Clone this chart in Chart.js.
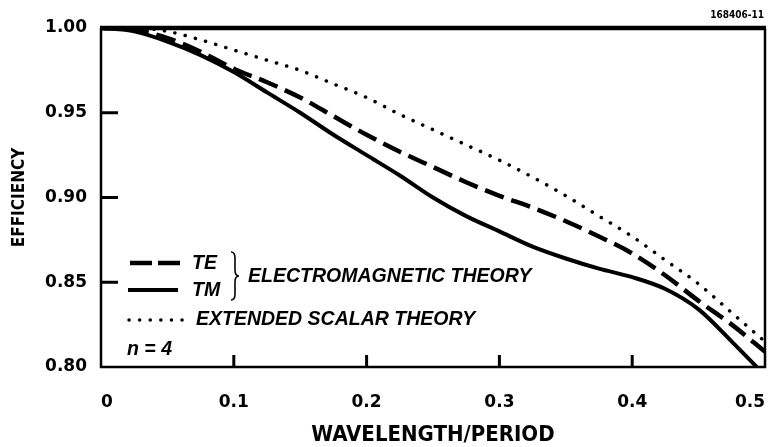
<!DOCTYPE html>
<html>
<head>
<meta charset="utf-8">
<script src="https://cdn.jsdelivr.net/npm/chart.js@4.4.1/dist/chart.umd.min.js"></script>
<style>
  html, body { margin: 0; padding: 0; background: #fff; }
  #wrap { width: 771px; height: 447px; position: relative; }
</style>
</head>
<body>
<div id="wrap"><canvas id="c" width="771" height="447"></canvas></div>
<script>
// ---- data ----
const wavelengthPeriod = [0, 0.025, 0.05, 0.075, 0.1, 0.125, 0.15, 0.175, 0.2, 0.225, 0.25,
                          0.275, 0.3, 0.325, 0.35, 0.375, 0.4, 0.425, 0.45, 0.475, 0.5];
const efficiencyTE = [1.000, 0.999, 0.994, 0.986, 0.976, 0.968, 0.959, 0.948, 0.937, 0.927, 0.918,
                      0.909, 0.901, 0.894, 0.886, 0.877, 0.867, 0.854, 0.839, 0.825, 0.809];
const efficiencyTM = [1.000, 0.998, 0.992, 0.984, 0.974, 0.962, 0.950, 0.937, 0.925, 0.913, 0.900,
                      0.889, 0.880, 0.871, 0.864, 0.858, 0.853, 0.846, 0.834, 0.815, 0.795];
const efficiencyScalar = [1.000, 1.000, 0.998, 0.993, 0.987, 0.981, 0.975, 0.967, 0.959, 0.949, 0.940,
                          0.931, 0.922, 0.912, 0.901, 0.889, 0.877, 0.863, 0.849, 0.832, 0.815];
const xTickLabels = ['0', '0.1', '0.2', '0.3', '0.4', '0.5'];
const yTickLabels = ['0.80', '0.85', '0.90', '0.95', '1.00'];
const legendLabels = ['TE', 'TM', 'ELECTROMAGNETIC THEORY', 'EXTENDED SCALAR THEORY', 'n = 4'];
const figureId = '168406-11';

const toPoints = arr => arr.map((v, i) => ({ x: wavelengthPeriod[i], y: v }));

const frame = {
  id: 'frame',
  afterDatasetsDraw(chart) {
    const { ctx, chartArea: a, scales: { x, y } } = chart;
    ctx.save();
    ctx.strokeStyle = '#000';
    ctx.lineCap = 'butt';
    ctx.lineWidth = 2.5;
    ctx.beginPath();
    ctx.moveTo(a.left, a.top); ctx.lineTo(a.left, a.bottom);
    ctx.lineTo(a.right, a.bottom); ctx.lineTo(a.right, a.top);
    ctx.stroke();
    ctx.lineWidth = 4.5;
    ctx.beginPath();
    ctx.moveTo(a.left - 1, a.top); ctx.lineTo(a.right + 1, a.top);
    ctx.stroke();
    ctx.lineWidth = 3;
    y.ticks.forEach(t => {
      if (t.value <= y.min + 1e-9 || t.value >= y.max - 1e-9) return;
      const py = y.getPixelForValue(t.value);
      ctx.beginPath(); ctx.moveTo(a.left, py); ctx.lineTo(a.left + 17, py); ctx.stroke();
    });
    x.ticks.forEach(t => {
      if (t.value <= x.min + 1e-9 || t.value >= x.max - 1e-9) return;
      const px = x.getPixelForValue(t.value);
      ctx.beginPath(); ctx.moveTo(px, a.bottom); ctx.lineTo(px, a.bottom - 12); ctx.stroke();
    });
    ctx.restore();
  },
  afterDraw(chart) {
    const { ctx } = chart;
    ctx.save();
    ctx.fillStyle = '#000';
    ctx.strokeStyle = '#000';
    ctx.font = 'bold 10px "DejaVu Sans Condensed", "DejaVu Sans"';
    ctx.textAlign = 'right';
    ctx.textBaseline = 'middle';
    ctx.fillText(figureId, 764, 15);
    // legend samples
    ctx.lineWidth = 4.5;
    ctx.setLineDash([22, 6]);
    ctx.beginPath(); ctx.moveTo(130, 263); ctx.lineTo(180, 263); ctx.stroke();
    ctx.setLineDash([]);
    ctx.lineWidth = 4;
    ctx.beginPath(); ctx.moveTo(128, 290); ctx.lineTo(178, 290); ctx.stroke();
    ctx.lineWidth = 3.5;
    ctx.lineCap = 'round';
    ctx.setLineDash([0.1, 10.5]);
    ctx.beginPath(); ctx.moveTo(129, 320); ctx.lineTo(184, 320); ctx.stroke();
    ctx.setLineDash([]);
    ctx.lineCap = 'butt';
    // brace
    ctx.lineWidth = 1.6;
    ctx.beginPath();
    ctx.moveTo(231, 252);
    ctx.quadraticCurveTo(235, 252, 235, 258);
    ctx.lineTo(235, 270);
    ctx.quadraticCurveTo(235, 276, 239, 276);
    ctx.quadraticCurveTo(235, 276, 235, 282);
    ctx.lineTo(235, 294);
    ctx.quadraticCurveTo(235, 300, 231, 300);
    ctx.stroke();
    // legend texts
    ctx.font = 'italic bold 19.5px "Liberation Sans", Arial';
    ctx.textAlign = 'left';
    ctx.textBaseline = 'middle';
    ctx.fillText(legendLabels[0], 192, 264);
    ctx.fillText(legendLabels[1], 192, 291);
    ctx.fillText(legendLabels[2], 248, 277);
    ctx.fillText(legendLabels[3], 196, 320);
    ctx.fillText(legendLabels[4], 127, 350);
    ctx.restore();
  }
};

new Chart(document.getElementById('c'), {
  type: 'line',
  data: {
    datasets: [
      { label: 'TE', data: toPoints(efficiencyTE), borderColor: '#000', borderWidth: 4.5,
        borderDash: [20, 8], pointRadius: 0, cubicInterpolationMode: 'monotone', fill: false },
      { label: 'TM', data: toPoints(efficiencyTM), borderColor: '#000', borderWidth: 4,
        pointRadius: 0, cubicInterpolationMode: 'monotone', fill: false },
      { label: 'Extended scalar theory', data: toPoints(efficiencyScalar), borderColor: '#000',
        borderWidth: 3.5, borderDash: [0.1, 10.5], borderCapStyle: 'round',
        pointRadius: 0, cubicInterpolationMode: 'monotone', fill: false }
    ]
  },
  options: {
    responsive: false,
    animation: false,
    devicePixelRatio: 1,
    layout: { autoPadding: false, padding: { top: 28, right: 6, left: 0, bottom: 0 } },
    plugins: { legend: { display: false }, tooltip: { enabled: false }, title: { display: false } },
    scales: {
      x: {
        type: 'linear', min: 0, max: 0.5,
        afterFit: s => { s.height = 80; },
        grid: { display: false, drawTicks: true, tickLength: 25 },
        border: { display: false },
        ticks: {
          stepSize: 0.1, padding: 0, color: '#000', align: 'inner',
          font: { family: '"DejaVu Sans"', weight: 'bold', size: 17 },
          callback: (v) => xTickLabels[Math.round(v * 10)]
        },
        title: {
          display: true, text: 'WAVELENGTH/PERIOD', color: '#000',
          font: { family: '"DejaVu Sans Condensed", "DejaVu Sans"', weight: 'bold', size: 22, lineHeight: 1 },
          padding: { top: 0, bottom: 1 }
        }
      },
      y: {
        min: 0.8, max: 1.0,
        afterFit: s => { s.width = 101; },
        grid: { display: false, drawTicks: true, tickLength: 14 },
        border: { display: false },
        ticks: {
          stepSize: 0.05, padding: 0, color: '#000',
          font: { family: '"DejaVu Sans"', weight: 'bold', size: 17 },
          callback: (v) => yTickLabels[Math.round((v - 0.8) / 0.05)]
        },
        title: {
          display: true, text: 'EFFICIENCY', color: '#000',
          font: { family: '"DejaVu Sans Condensed", "DejaVu Sans"', weight: 'bold', size: 17, lineHeight: 1 },
          padding: { top: 11, bottom: 0 }
        }
      }
    }
  },
  plugins: [frame]
});
</script>
</body>
</html>
